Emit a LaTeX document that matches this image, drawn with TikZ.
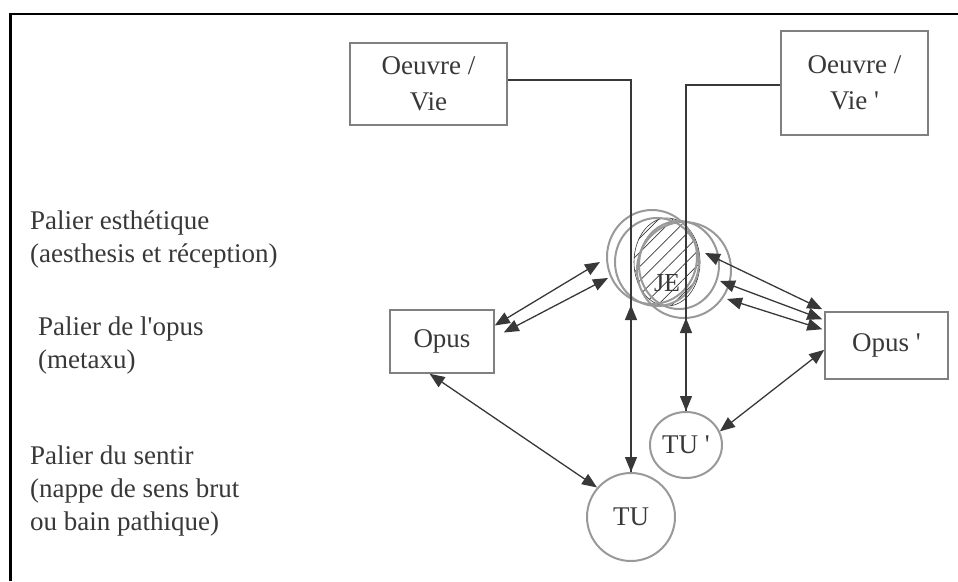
\documentclass[tikz,border=0pt]{standalone}
\usepackage{fontspec}
\setmainfont{Liberation Serif}
\usetikzlibrary{arrows.meta,shapes.geometric,patterns.meta}
\definecolor{boxgrey}{HTML}{808080}
\definecolor{ringgrey}{HTML}{999999}
\definecolor{linegrey}{HTML}{383838}
\tikzset{tipdecorate/.tip={Triangle[length=15pt,width=12pt]}}
\begin{document}
\begin{tikzpicture}
[x=1pt,y=-1pt,
  boxdecorate/.style={rectangle,draw=boxgrey,line width=1.5pt,inner sep=2pt,align=center,%
    text=linegrey,font=\fontsize{27}{36}\selectfont},
  ringdecorate/.style={ellipse,draw=ringgrey,line width=2pt,inner sep=0pt,%
    text=linegrey,font=\fontsize{27}{33}\selectfont},
  leveldecorate/.style={anchor=west,align=left,inner sep=0pt,text=linegrey,%
    font=\fontsize{27}{33}\selectfont},
  linedecorate/.style={draw=linegrey,line width=1.3pt},
  arrowdecorate/.style={linedecorate,-tipdecorate},
  bothdecorate/.style={linedecorate,tipdecorate-tipdecorate}]
\useasboundingbox (0,0) rectangle (958,581);
%% frame
\draw[line width=1.2pt] (9,14) -- (958,14);
\draw[line width=3pt] (10.5,14) -- (10.5,581);
%% levels
\foreach \levelname/\x/\y/\txt in {esth/30/239/{Palier esthétique\\(aesthesis et réception)},
    opus/38/346/{Palier de l\textquotesingle opus\\(metaxu)},
    sentir/30/491/{Palier du sentir\\(nappe de sens brut\\ou bain pathique)}} {
  \node (level-\levelname) at (\x,\y) [leveldecorate] {\txt};
}
%% boxes and circles
\node (oeuvre) at (428.5,84) [boxdecorate,minimum width=157pt,minimum height=82pt] {Oeuvre /\\Vie};
\node (oeuvre2) at (854.5,83) [boxdecorate,minimum width=147pt,minimum height=104pt] {Oeuvre /\\Vie \textquotesingle};
\node (opus) at (442,341.5) [boxdecorate,minimum width=104pt,minimum height=63pt] {Opus};
\node (opus2) at (886.5,345.5) [boxdecorate,minimum width=123pt,minimum height=67pt] {Opus \textquotesingle};
\node (tu) at (631,517) [ringdecorate,minimum width=88pt,minimum height=88pt] {TU};
\node (tu2) at (686,445) [ringdecorate,minimum width=72pt,minimum height=66pt] {TU \textquotesingle};
%% JE
\node (je-core) at (667,262) [ellipse,inner sep=0pt,minimum width=66pt,minimum height=88pt,%
  draw=linegrey,line width=0.6pt,pattern={Lines[angle=45,distance=10pt,line width=0.7pt]},%
  pattern color=linegrey] {};
\foreach \ringname/\x/\y/\w/\h in {1/652/257/90/94, 2/657/262/84/88, 3/684/270/94/96, 4/679/265/80/88} {
  \node (je-ring\ringname) at (\x,\y) [ringdecorate,minimum width=\w pt,minimum height=\h pt] {};
}
\node (je) at (667,283) [inner sep=1pt,text=linegrey,font=\fontsize{26}{28}\selectfont] {JE};
%% end points on JE and on the boxes
\coordinate (je-tu) at (631,305);
\coordinate (je-tu2) at (686,318);
\coordinate (je-w1) at (600,262);
\coordinate (je-w2) at (608,278);
\coordinate (je-e1) at (705,253);
\coordinate (je-e2) at (720,281);
\coordinate (je-e3) at (727,299);
\coordinate (opus-e1) at ([yshift=16pt]opus.east);
\coordinate (opus-e2) at ([xshift=9pt,yshift=9pt]opus.east);
\coordinate (opus2-w1) at ([xshift=-2pt,yshift=2pt]opus2.north west);
\coordinate (opus2-w2) at ([xshift=-2pt,yshift=-8pt]opus2.north west);
\coordinate (opus2-w3) at ([xshift=-2pt,yshift=-18pt]opus2.north west);
%% edges
\draw[arrowdecorate] ([yshift=4pt]oeuvre.east) -| (tu.north);
\draw[arrowdecorate] ([yshift=-2pt]oeuvre2.west) -| (tu2.north);
\draw[arrowdecorate] (tu.north) -- (je-tu);
\draw[arrowdecorate] (tu2.north) -- (je-tu2);
\path
\foreach \startnode/\endnode in {opus-e1/je-w1, opus-e2/je-w2, je-e1/opus2-w1, je-e2/opus2-w2,
    je-e3/opus2-w3, opus.249/tu.139, tu2.22/opus2.184} {
  (\startnode) edge[bothdecorate] (\endnode)
};
\end{tikzpicture}
\end{document}
